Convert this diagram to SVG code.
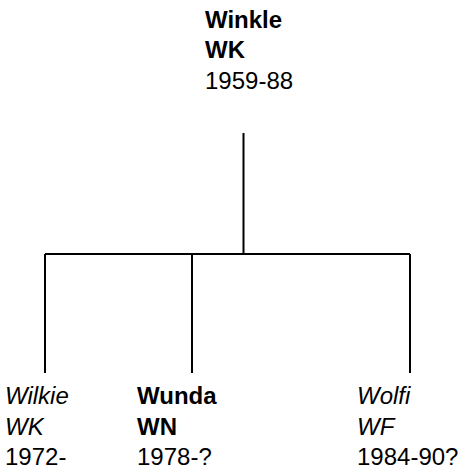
<svg xmlns="http://www.w3.org/2000/svg" width="466" height="472" viewBox="0 0 466 472">
<style>
text{font-family:"Liberation Sans",Arial,sans-serif;font-size:24px;fill:#000}
.b{font-weight:bold}
.i{font-style:italic}
.c{stroke:#000;stroke-width:2;fill:none}
</style>
<rect width="466" height="472" fill="#fff"/>
<g id="connectors">
<path class="c" d="M243.5 133V254M45 254H410M45 254V373M192 254V373M410 254V373"/>
</g>
<g id="winkle">
<text class="b" x="205" y="28">Winkle</text>
<text class="b" x="205" y="58">WK</text>
<text x="205" y="89">1959-88</text>
</g>
<g id="wilkie">
<text class="i" x="5" y="404">Wilkie</text>
<text class="i" x="5" y="435">WK</text>
<text x="5" y="465">1972-</text>
</g>
<g id="wunda">
<text class="b" x="137" y="404">Wunda</text>
<text class="b" x="137" y="435">WN</text>
<text x="137" y="465">1978-?</text>
</g>
<g id="wolfi">
<text class="i" x="357" y="404">Wolfi</text>
<text class="i" x="357" y="435">WF</text>
<text x="357" y="465">1984-90?</text>
</g>
</svg>
